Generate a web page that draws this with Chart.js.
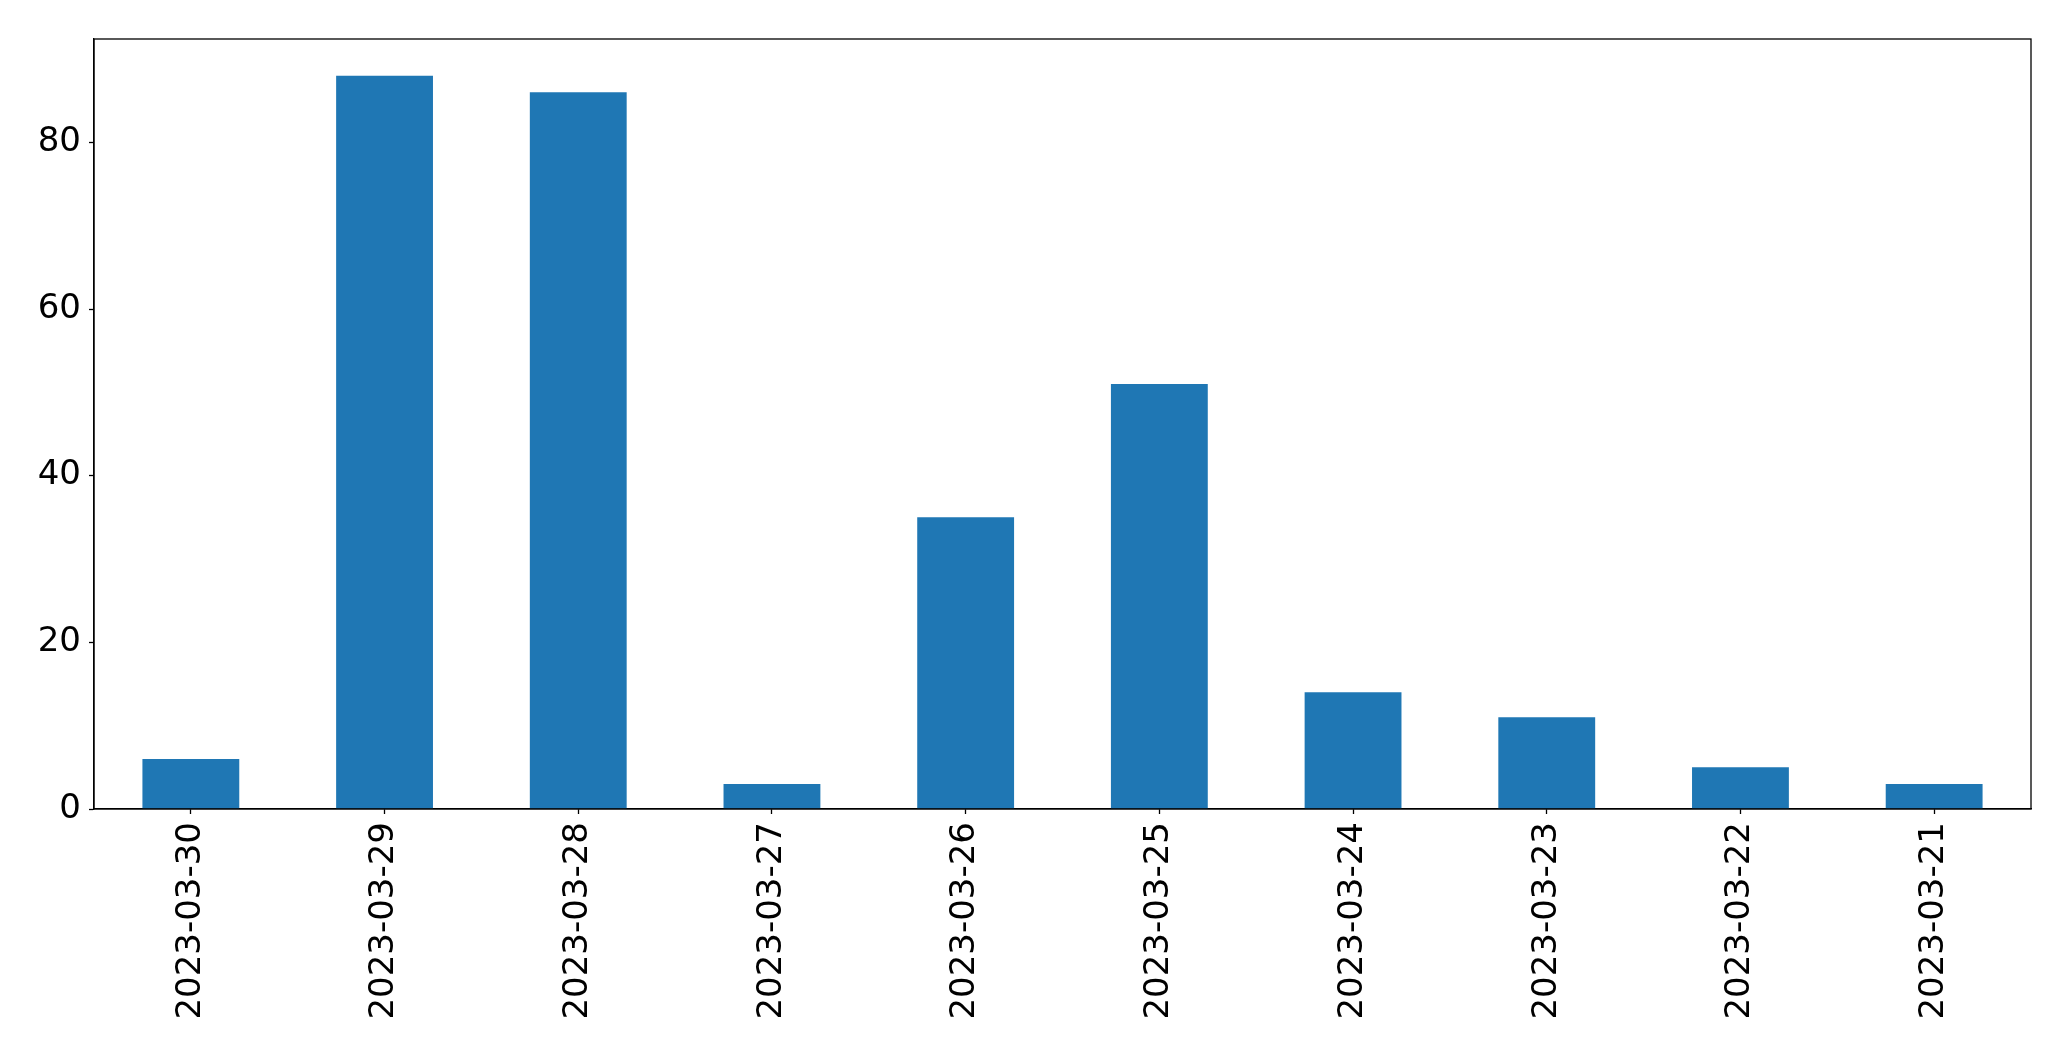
<!DOCTYPE html>
<html><head><meta charset="utf-8">
<script src="https://cdn.jsdelivr.net/npm/chart.js@4/dist/chart.umd.min.js"></script>
<style>html,body{margin:0;padding:0;background:#fff;}#wrap{width:2071px;height:1061px;}</style>
</head><body><div id="wrap"><canvas id="c" width="2071" height="1061"></canvas></div>
<script>
const categories = ["2023-03-30","2023-03-29","2023-03-28","2023-03-27","2023-03-26","2023-03-25","2023-03-24","2023-03-23","2023-03-22","2023-03-21"];
const values = [6, 88, 86, 3, 35, 51, 14, 11, 5, 3];
const yTicks = [0, 20, 40, 60, 80];
const yMax = 92.4;

const frame = {
  id: 'frame',
  afterDraw(chart) {
    const a = chart.chartArea, ctx = chart.ctx;
    ctx.save();
    ctx.strokeStyle = '#000';
    ctx.lineWidth = 1.3;
    ctx.strokeRect(a.left, a.top, a.right - a.left, a.bottom - a.top);
    ctx.restore();
  }
};

Chart.defaults.font.family = "'DejaVu Sans', sans-serif";
Chart.defaults.color = '#000';

new Chart(document.getElementById('c'), {
  type: 'bar',
  data: { labels: categories, datasets: [{ data: values, backgroundColor: '#1f77b4', borderWidth: 0, categoryPercentage: 1.0, barPercentage: 0.5 }] },
  options: {
    responsive: false, animation: false,
    layout: { padding: { top: 39, right: 40, left: 0, bottom: 0 } },
    plugins: { legend: { display: false }, tooltip: { enabled: false } },
    scales: {
      x: {
        offset: true,
        grid: { display: true, drawOnChartArea: false, offset: false, tickLength: 5, color: '#000', tickWidth: 1.3 },
        border: { display: true, color: '#000', width: 1.3 },
        ticks: { font: { size: 34 }, maxRotation: 90, minRotation: 90, padding: 8, autoSkip: false },
        afterFit(s) { s.height = 252; }
      },
      y: {
        min: 0, max: yMax,
        afterBuildTicks(s) { s.ticks = yTicks.map(v => ({ value: v })); },
        grid: { display: true, drawOnChartArea: false, tickLength: 5, color: '#000', tickWidth: 1.3 },
        border: { display: true, color: '#000', width: 1.3 },
        ticks: { font: { size: 34 }, padding: 8 },
        afterFit(s) { s.width = 94; }
      }
    }
  },
  plugins: [frame]
});
</script>
</body></html>
